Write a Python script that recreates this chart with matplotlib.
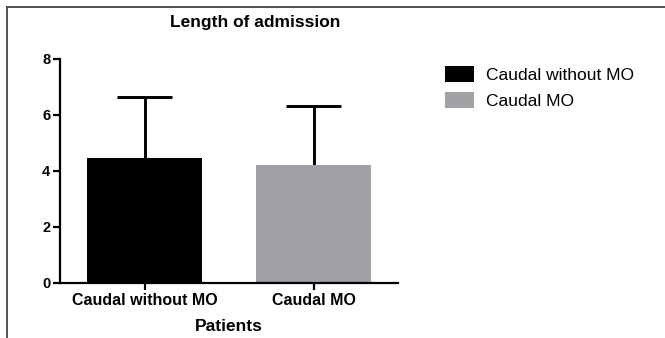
import matplotlib
matplotlib.use("Agg")
import matplotlib.pyplot as plt
from matplotlib.lines import Line2D
from matplotlib.patches import Patch

# Data
groups = ["Caudal without MO", "Caudal MO"]
means = [4.45, 4.21]
sd_upper = [2.20, 2.12]
colors = ["#000000", "#a1a0a4"]
yticks = [0, 2, 4, 6, 8]

plt.rcParams['font.family'] = ['Liberation Sans', 'DejaVu Sans']

fig = plt.figure(figsize=(6.65, 3.38), dpi=100)
W, H = 665, 338
ax = fig.add_axes([60 / W, (H - 283) / H, (398 - 60) / W, (283 - 59) / H])

x = list(range(len(groups)))
ax.bar(x, means, width=0.68, color=colors, zorder=2)

# one-sided (upper) error bars with caps
tops = [m + s for m, s in zip(means, sd_upper)]
ax.vlines(x, means, tops, color='black', lw=2.1, zorder=1)
ax.hlines(tops, [xi - 0.163 for xi in x], [xi + 0.163 for xi in x],
          color='black', lw=2.1, zorder=1)

ax.set_xlim(-0.5, 1.5)
ax.set_ylim(0, 8)
ax.set_yticks(yticks)
ax.set_xticks(x)
ax.set_xticklabels(groups, fontsize=11.5, fontweight='bold')
for lab in ax.get_yticklabels():
    lab.set_fontweight('bold')
    lab.set_fontsize(10.5)
ax.tick_params(axis='both', length=5, width=1.6, pad=2)
for s in ['top', 'right']:
    ax.spines[s].set_visible(False)
for s in ['left', 'bottom']:
    ax.spines[s].set_linewidth(1.6)
ax.set_xlabel("Patients", fontsize=12.5, fontweight='bold', labelpad=8)

fig.text(255 / W, 1 - 22 / H, "Length of admission", fontsize=12.5,
         fontweight='bold', ha='center', va='center')

handles = [Patch(facecolor=c, edgecolor='none') for c in colors]
fig.legend(handles, groups, loc='upper left', bbox_to_anchor=(438 / W, 1 - 59 / H),
           frameon=False, fontsize=12.5, handlelength=1.65, handleheight=1.05,
           handletextpad=0.7, labelspacing=0.5, borderaxespad=0.0)

# figure border (top and left)
fig.add_artist(Line2D([7 / W, 1], [1 - 7 / H, 1 - 7 / H], color='#444444', lw=1.3))
fig.add_artist(Line2D([7 / W, 7 / W], [0, 1 - 7 / H], color='#444444', lw=1.3))

fig.savefig("out.png", dpi=100)
